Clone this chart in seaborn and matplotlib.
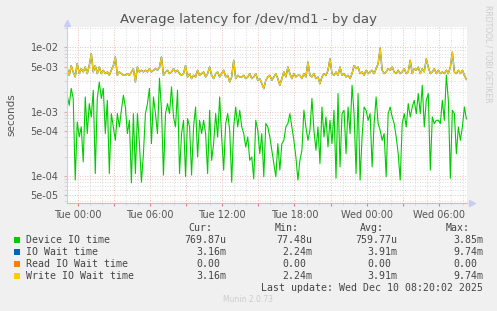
import numpy as np
import pandas as pd
import matplotlib
matplotlib.use("Agg")
import matplotlib.pyplot as plt
import matplotlib.dates as mdates
import matplotlib.ticker as mticker
from matplotlib.patches import Rectangle
import seaborn as sns

# ---------------- data (10-minute samples, Mon 23:07 -> Wed 08:17) ----------------
start_time = "2025-12-08 23:07"
n_samples = 200

# Device IO time, microseconds
device_us = [
    1800, 1250, 2300, 1600, 86, 690, 404, 578, 165, 1690, 455, 1330, 826, 2150, 109,
    1600, 2890, 1600, 2300, 455, 1500, 109, 931, 578, 358, 931, 578, 1050, 1800,
    1180, 455, 733, 78, 931, 109, 931, 318, 80, 222, 931, 1330, 2300, 318, 1690,
    931, 455, 3300, 1050, 103, 931, 1330, 931, 2420, 826, 578, 2150, 109, 455,
    733, 97, 780, 578, 103, 578, 1180, 197, 733, 455, 733, 455, 109, 1050, 175,
    318, 931, 404, 1690, 404, 123, 651, 931, 513, 80, 578, 1180, 578, 1050,
    578, 455, 282, 404, 175, 197, 90, 733, 513, 222, 455, 97, 651, 578, 404,
    251, 156, 97, 318, 123, 318, 358, 578, 651, 931, 578, 358, 197, 86,
    175, 251, 1050, 578, 358, 513, 1600, 513, 251, 578, 156, 1180, 404, 826, 282,
    733, 318, 1050, 92, 1910, 138, 931, 1050, 222, 1180, 455, 2580, 931, 109,
    1910, 86, 404, 1180, 1050, 733, 931, 138, 651, 1690, 651, 513, 358, 455, 97,
    931, 1180, 826, 651, 404, 222, 86, 651, 931, 578, 1330, 826, 1180, 1500,
    931, 1910, 931, 2580, 578, 1500, 1910, 123, 826, 651, 733, 733, 651, 1500,
    733, 3700, 1500, 92, 1050, 931, 222, 578, 358, 578, 1180, 770,
]

# Write IO wait time, milliseconds
write_ms = [
    4.66, 3.67, 5.2, 4.14, 3.46, 5.57, 3.9, 4.66, 4.14, 4.94, 3.9, 5.2, 7.97, 4.14, 5.2,
    3.9, 4.94, 3.9, 4.4, 3.9, 4.14, 3.67, 4.4, 5.2, 7.08, 3.67, 4.14, 3.9, 3.67,
    3.67, 3.9, 3.67, 4.14, 4.66, 2.89, 4.94, 4.14, 4.4, 4.14, 4.4, 4.14, 4.66, 4.14, 4.4,
    4.66, 4.4, 4.94, 7.08, 3.67, 4.14, 4.4, 3.9, 4.14, 4.66, 4.14, 4.4, 3.9, 3.67,
    3.9, 5.2, 3.46, 3.9, 3.26, 3.67, 3.46, 4.4, 3.67, 3.9, 4.14, 3.46, 3.9, 4.94, 3.67,
    3.26, 3.9, 4.14, 3.46, 3.9, 4.4, 3.46, 3.67, 2.89, 3.46, 6.28, 3.26, 3.67, 3.46,
    3.46, 3.67, 3.26, 3.46, 3.9, 3.26, 3.46, 3.9, 3.07, 3.26, 2.72, 2.28, 3.07, 3.46, 3.67,
    3.07, 3.46, 3.9, 3.26, 2.57, 3.26, 4.14, 3.46, 4.94, 3.9, 3.26, 3.9, 3.46, 3.67,
    3.67, 3.26, 3.9, 3.46, 5.9, 3.67, 3.46, 3.9, 3.26, 3.46, 2.72, 3.46, 3.9, 3.67, 4.4,
    6.6, 3.9, 3.67, 4.14, 3.67, 4.94, 3.67, 3.9, 3.46, 3.67, 3.26, 3.9, 5.2, 4.66,
    4.94, 3.9, 4.14, 3.67, 4.4, 3.9, 4.14, 4.4, 3.9, 4.66, 5.57, 9.74, 4.4, 3.9, 4.14,
    4.66, 4.4, 4.94, 4.14, 3.9, 4.4, 3.9, 4.14, 4.66, 3.9, 4.14, 6.28, 3.9, 4.66,
    4.4, 4.94, 3.9, 4.66, 4.14, 6.6, 4.94, 3.9, 4.14, 4.66, 3.9, 4.4, 3.9, 4.14,
    3.9, 4.4, 3.9, 4.94, 8.4, 4.14, 3.9, 4.4, 3.9, 4.4, 3.67, 3.16,
]

# Read IO wait time is zero all day; total IO wait equals write IO wait
read_ms = [0.0] * n_samples
io_wait_ms = list(write_ms)

series_names = ["Device IO time", "IO Wait time", "Read IO Wait time", "Write IO Wait time"]
series_colors = ["#00cc00", "#0066b3", "#ff8000", "#ffcc00"]
stat_cur = ["769.87u", "3.16m", "0.00", "3.16m"]
stat_min = ["77.48u", "2.24m", "0.00", "2.24m"]
stat_avg = ["759.77u", "3.91m", "0.00", "3.91m"]
stat_max = ["3.85m", "9.74m", "0.00", "9.74m"]
y_tick_values = [5e-5, 1e-4, 5e-4, 1e-3, 5e-3, 1e-2]

times = pd.date_range(start_time, periods=n_samples, freq="10min")
df = pd.DataFrame({
    "time": times,
    "device": np.array(device_us) * 1e-6,
    "iowait": np.array(io_wait_ms) * 1e-3,
    "read": np.array(read_ms) * 1e-3,
    "write": np.array(write_ms) * 1e-3,
})

# ---------------- figure ----------------
W, H = 497, 311
fig = plt.figure(figsize=(W / 100, H / 100), dpi=100, facecolor="#f0f0f0")
ax = fig.add_axes([67 / W, 1 - 203 / H, 400 / W, 176 / H])
ax.set_facecolor("white")
ax.set_yscale("log")

sns.lineplot(data=df, x="time", y="device", color=series_colors[0], lw=0.8, ax=ax)
sns.lineplot(data=df, x="time", y="iowait", color=series_colors[1], lw=1.0, ax=ax)
read_pos = df[df["read"] > 0]
if len(read_pos):
    sns.lineplot(data=read_pos, x="time", y="read", color=series_colors[2], lw=0.8, ax=ax)
sns.lineplot(data=df, x="time", y="write", color=series_colors[3], lw=0.9, ax=ax)

ax.set_xlim(pd.Timestamp("2025-12-08 23:06"), pd.Timestamp("2025-12-10 08:20"))
ax.set_ylim(3.79e-5, 2.07e-2)
ax.set_xlabel("")
ax.set_ylabel("")

# grids: minor hourly grey, major 3-hourly red
ax.xaxis.set_major_locator(mdates.HourLocator(byhour=range(0, 24, 3)))
ax.xaxis.set_minor_locator(mdates.HourLocator())

def xfmt(x, pos):
    d = mdates.num2date(x)
    return d.strftime("%a %H:%M") if d.hour % 6 == 0 else ""

ax.xaxis.set_major_formatter(mticker.FuncFormatter(xfmt))
ax.yaxis.set_major_locator(mticker.FixedLocator(y_tick_values))
ax.yaxis.set_minor_locator(mticker.LogLocator(base=10, subs=(2, 3, 4, 6, 7, 8, 9)))
ax.yaxis.set_major_formatter(mticker.FuncFormatter(lambda v, p: f"{v:.0e}"))
ax.yaxis.set_minor_formatter(mticker.NullFormatter())

dot = (0, (1, 2))
ax.grid(True, which="minor", color="#d0d0d0", linestyle=dot, linewidth=0.6)
ax.grid(True, which="major", color="#e8a8a8", linestyle=dot, linewidth=0.6)
ax.set_axisbelow(True)

ax.tick_params(axis="both", which="both", labelsize=7, labelcolor="#555555")
ax.tick_params(axis="x", which="major", length=2, color="#e08080", pad=3)
ax.tick_params(axis="x", which="minor", length=1.5, color="#d0d0d0")
ax.tick_params(axis="y", which="major", length=2, color="#e8a8a8", pad=4)
ax.tick_params(axis="y", which="minor", length=2, color="#d0d0d0")

for s in ["top", "right"]:
    ax.spines[s].set_visible(False)
ax.spines["left"].set_color("#c9cdf5")
ax.spines["bottom"].set_color("#f0b0a0")
ax.spines["left"].set_linewidth(0.8)
ax.spines["bottom"].set_linewidth(0.8)

# axis arrows
ax.plot([0], [1.02], marker="^", ms=4, color="#c9cdf5", transform=ax.transAxes, clip_on=False)
ax.plot([1.012], [0], marker=">", ms=4, color="#c9cdf5", transform=ax.transAxes, clip_on=False)

# ---------------- texts ----------------
def px(x, y):
    return x / W, 1 - y / H

fig.text(*px(248, 19), "Average latency for /dev/md1 - by day", ha="center", va="center",
         fontsize=9.5, color="#555555")
fig.text(*px(11, 115), "seconds", rotation=90, ha="center", va="center", fontsize=7.5, color="#555555")
fig.text(*px(488, 5), "RRDTOOL / TOBI OETIKER", rotation=270, ha="center", va="top",
         fontsize=5.5, color="#cccccc")

mono = dict(family="DejaVu Sans Mono", fontsize=7.1, color="#444444", va="center")
cw = 5.95
head_y = 228
for label, xr in zip(["Cur:", "Min:", "Avg:", "Max:"], [212, 299, 384, 470]):
    fig.text(*px(xr, head_y), label, ha="right", **mono)

cols = [stat_cur, stat_min, stat_avg, stat_max]
col_right = [226, 312, 397, 483]
for i, name in enumerate(series_names):
    y = 240 + 12 * i
    fig.add_artist(Rectangle(px(14, y + 3), 6 / W, 6 / H, transform=fig.transFigure,
                             facecolor=series_colors[i], edgecolor="none"))
    fig.text(*px(26, y), name, ha="left", **mono)
    for c, xr in zip(cols, col_right):
        v = c[i]
        shift = 0 if v[-1] in "um" else cw
        fig.text(*px(xr - shift, y), v, ha="right", **mono)

fig.text(*px(483, 288), "Last update: Wed Dec 10 08:20:02 2025", ha="right", **mono)
fig.text(*px(248, 300), "Munin 2.0.73", ha="center", va="center", fontsize=5.5, color="#cccccc")

fig.savefig("out.png", dpi=100, facecolor=fig.get_facecolor())
